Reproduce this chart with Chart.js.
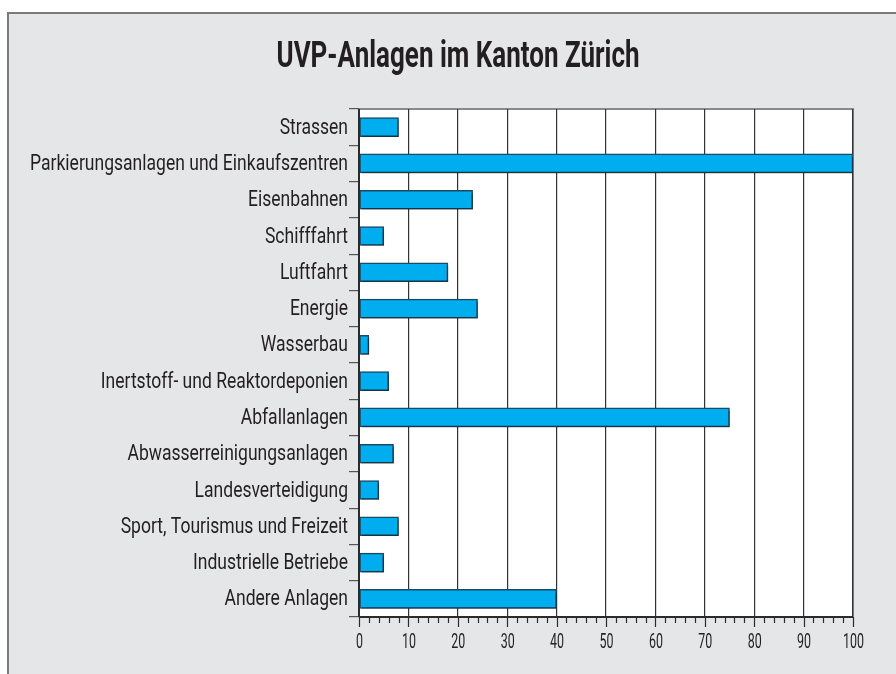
<!DOCTYPE html>
<html>
<head>
<meta charset="utf-8">
<script src="https://cdn.jsdelivr.net/npm/chart.js@4"></script>
<style>
  html, body { margin: 0; padding: 0; background: #fff; }
  #wrap { width: 896px; height: 674px; }
</style>
</head>
<body>
<div id="wrap"><canvas id="uvp"></canvas></div>
<script>
const categories = [
  'Strassen',
  'Parkierungsanlagen und Einkaufszentren',
  'Eisenbahnen',
  'Schifffahrt',
  'Luftfahrt',
  'Energie',
  'Wasserbau',
  'Inertstoff- und Reaktordeponien',
  'Abfallanlagen',
  'Abwasserreinigungsanlagen',
  'Landesverteidigung',
  'Sport, Tourismus und Freizeit',
  'Industrielle Betriebe',
  'Andere Anlagen'
];
const anlagen = [8, 100, 23, 5, 18, 24, 2, 6, 75, 7, 4, 8, 5, 40];
const xTicks = [0, 10, 20, 30, 40, 50, 60, 70, 80, 90, 100];
const titleText = 'UVP-Anlagen im Kanton Zürich';

const FONT = "Roboto, 'Noto Sans', sans-serif";
const INK = '#231f20';

// schmal gestauchter text (die vorlage nutzt eine condensed schrift)
function narrowText(ctx, text, x, y, sx, align) {
  ctx.save();
  ctx.translate(x, y);
  ctx.scale(sx, 1);
  ctx.textAlign = align;
  ctx.fillText(text, 0, 0);
  ctx.restore();
}

const frame = {
  id: 'frame',
  beforeDraw(chart) {
    const ctx = chart.ctx;
    const a = chart.chartArea;
    ctx.save();
    ctx.fillStyle = '#fff';
    ctx.fillRect(0, 0, chart.width, chart.height);
    ctx.fillStyle = '#e5e6e8';
    ctx.fillRect(7, 13, chart.width, chart.height);
    ctx.strokeStyle = '#7a7a7a';
    ctx.lineWidth = 2;
    ctx.beginPath();
    ctx.moveTo(8, chart.height + 5);
    ctx.lineTo(8, 13);
    ctx.lineTo(chart.width + 5, 13);
    ctx.stroke();
    ctx.fillStyle = '#fff';
    ctx.fillRect(a.left, a.top, a.right - a.left, a.bottom - a.top);
    ctx.strokeStyle = '#8a8a8a';
    ctx.lineWidth = 2;
    ctx.beginPath();
    ctx.moveTo(a.left, a.top);
    ctx.lineTo(a.right, a.top);
    ctx.lineTo(a.right, a.bottom);
    ctx.stroke();

    // titel
    ctx.fillStyle = INK;
    ctx.font = 'bold 36px ' + FONT;
    ctx.textBaseline = 'middle';
    const tw = ctx.measureText(titleText).width;
    narrowText(ctx, titleText, 458, 58, 363 / tw, 'center');
    ctx.restore();
  },
  beforeDatasetsDraw(chart) {
    const ctx = chart.ctx;
    ctx.save();
    ctx.shadowColor = 'rgba(0,0,0,0.28)';
    ctx.shadowOffsetX = 1.5;
    ctx.shadowOffsetY = 2;
    ctx.shadowBlur = 0;
  },
  afterDatasetsDraw(chart) {
    chart.ctx.restore();
  },
  afterDraw(chart) {
    const ctx = chart.ctx;
    const x = chart.scales.x;
    const y = chart.scales.y;
    const a = chart.chartArea;
    ctx.save();
    // kleine und grosse striche unter der x-achse
    ctx.strokeStyle = '#2b2b2b';
    ctx.lineWidth = 1.2;
    ctx.beginPath();
    for (let v = 0; v <= 100; v += 2) {
      const px = Math.round(x.getPixelForValue(v)) + 0.5;
      const len = v % 10 === 0 ? 10 : 6;
      ctx.moveTo(px, a.bottom);
      ctx.lineTo(px, a.bottom + len);
    }
    ctx.stroke();
    ctx.lineWidth = 2;
    ctx.beginPath();
    ctx.moveTo(a.left, a.bottom);
    ctx.lineTo(a.right, a.bottom);
    ctx.moveTo(a.left, a.top);
    ctx.lineTo(a.left, a.bottom);
    ctx.stroke();

    // beschriftungen
    ctx.fillStyle = INK;
    ctx.textBaseline = 'middle';
    ctx.font = '22px ' + FONT;
    const longest = ctx.measureText(categories[1]).width;
    const sy = 318 / longest;
    categories.forEach((c, i) => {
      narrowText(ctx, c, 348, y.getPixelForValue(i) + 1, sy, 'right');
    });
    ctx.font = '21px ' + FONT;
    const sx = 14 / ctx.measureText('10').width;
    xTicks.forEach(v => {
      narrowText(ctx, String(v), x.getPixelForValue(v) + 0.5, 643, sx, 'center');
    });
    ctx.restore();
  }
};

new Chart(document.getElementById('uvp'), {
  type: 'bar',
  data: {
    labels: categories,
    datasets: [{
      label: 'UVP-Anlagen',
      data: anlagen,
      backgroundColor: '#00adee',
      borderColor: '#1b4a62',
      borderWidth: 1.5,
      borderSkipped: false,
      barThickness: 19
    }]
  },
  options: {
    indexAxis: 'y',
    responsive: true,
    maintainAspectRatio: false,
    animation: false,
    layout: { padding: { top: 109, right: 43, left: 0, bottom: 0 } },
    plugins: {
      legend: { display: false },
      tooltip: { enabled: false }
    },
    scales: {
      x: {
        min: 0,
        max: 100,
        afterBuildTicks(scale) {
          scale.ticks = xTicks.map(v => ({ value: v }));
        },
        afterFit(scale) { scale.height = 57; },
        border: { display: false },
        grid: {
          color: '#333',
          lineWidth: 1.2,
          tickLength: 11,
          tickColor: 'transparent'
        },
        ticks: { display: false }
      },
      y: {
        afterFit(scale) { scale.width = 359; },
        border: { display: false },
        grid: {
          offset: true,
          drawOnChartArea: false,
          tickLength: 10,
          tickColor: '#555',
          lineWidth: 1.2
        },
        ticks: { display: false }
      }
    }
  },
  plugins: [frame]
});
</script>
</body>
</html>
